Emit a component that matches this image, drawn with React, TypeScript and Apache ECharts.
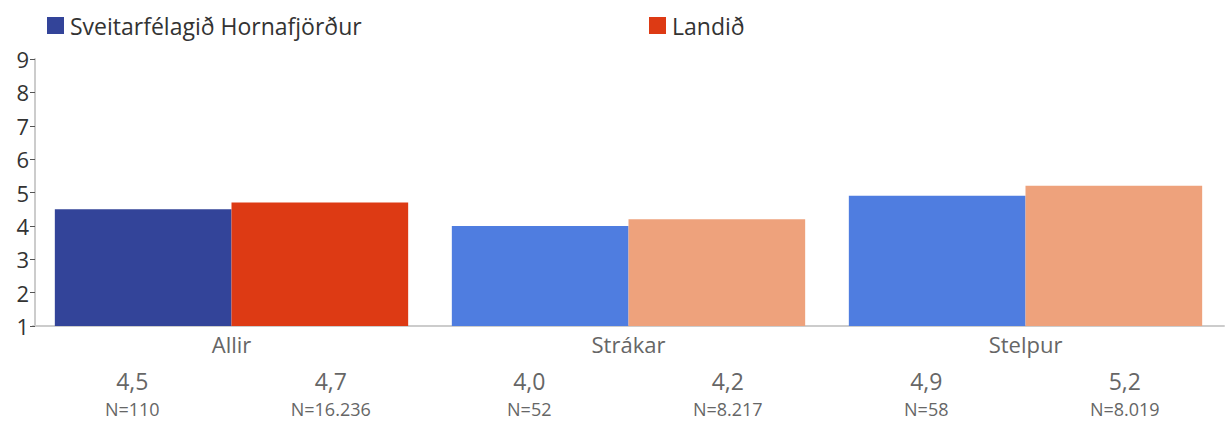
import React, { useEffect, useRef } from "react";
import * as echarts from "echarts";

const categories = ["Allir", "Strákar", "Stelpur"];
const seriesNames = ["Sveitarfélagið Hornafjörður", "Landið"];
const localValues = [4.5, 4.0, 4.9];
const nationalValues = [4.7, 4.2, 5.2];
const localN = ["110", "52", "58"];
const nationalN = ["16.236", "8.217", "8.019"];
const localColors = ["#334499", "#4f7de0", "#4f7de0"];
const nationalColors = ["#dd3a14", "#eea27c", "#eea27c"];
const yTicks = [1, 2, 3, 4, 5, 6, 7, 8, 9];

const FONT = "'Open Sans', 'Noto Sans', sans-serif";

export default function App() {
  const ref = useRef<HTMLDivElement>(null);
  useEffect(() => {
    document.body.style.margin = "0";
    const chart = echarts.init(ref.current!, null, { renderer: "svg" });
    const fmt = (v: number) => v.toFixed(1).replace(".", ",");
    const subLabels: string[] = [];
    const subKeys: string[] = [];
    categories.forEach((c, i) => {
      subKeys.push(c + "-a", c + "-b");
      subLabels.push(`{v|${fmt(localValues[i])}}\n{n|N=${localN[i]}}`);
      subLabels.push(`{v|${fmt(nationalValues[i])}}\n{n|N=${nationalN[i]}}`);
    });
    const legendText = { fontSize: 23, color: "#333", fontFamily: FONT, padding: [0, 0, 0, 1] };
    chart.setOption({
      animation: false,
      textStyle: { fontFamily: FONT },
      legend: [
        {
          data: [seriesNames[0]],
          left: 42,
          top: 9,
          itemWidth: 17,
          itemHeight: 17,
          icon: "rect",
          textStyle: legendText,
        },
        {
          data: [seriesNames[1]],
          left: 644,
          top: 9,
          itemWidth: 17,
          itemHeight: 17,
          icon: "rect",
          textStyle: legendText,
        },
      ],
      grid: { left: 33, right: 6, top: 59, bottom: 96, containLabel: false },
      xAxis: [
        {
          type: "category",
          data: categories,
          axisLine: { lineStyle: { color: "#cccccc", width: 2 } },
          axisTick: { show: false },
          axisLabel: { fontSize: 22, color: "#666", margin: 7, fontFamily: FONT },
        },
        {
          type: "category",
          data: subKeys,
          position: "bottom",
          axisLine: { show: false },
          axisTick: { show: false },
          axisLabel: {
            margin: 41,
            interval: 0,
            formatter: (_: string, idx: number) => subLabels[idx],
            rich: {
              v: { fontSize: 23, color: "#666", lineHeight: 28, fontFamily: FONT },
              n: { fontSize: 18, color: "#666", lineHeight: 28, fontFamily: FONT },
            },
          },
        },
      ],
      yAxis: {
        type: "value",
        min: yTicks[0],
        max: yTicks[yTicks.length - 1],
        interval: 1,
        offset: -2,
        splitLine: { show: false },
        axisLine: { show: true, lineStyle: { color: "#cccccc", width: 2 } },
        axisTick: { show: true, length: 5, lineStyle: { color: "#555" } },
        axisLabel: { fontSize: 22, color: "#333", margin: 6, fontFamily: FONT },
      },
      series: [
        {
          name: seriesNames[0],
          type: "bar",
          xAxisIndex: 0,
          barGap: "0%",
          barCategoryGap: "11%",
          itemStyle: { color: localColors[0] },
          data: localValues.map((v, i) => ({ value: v, itemStyle: { color: localColors[i] } })),
        },
        {
          name: seriesNames[1],
          type: "bar",
          xAxisIndex: 0,
          barGap: "0%",
          barCategoryGap: "11%",
          itemStyle: { color: nationalColors[0] },
          data: nationalValues.map((v, i) => ({ value: v, itemStyle: { color: nationalColors[i] } })),
        },
      ],
    });
    return () => chart.dispose();
  }, []);
  return <div ref={ref} style={{ width: 1230, height: 422 }} />;
}
